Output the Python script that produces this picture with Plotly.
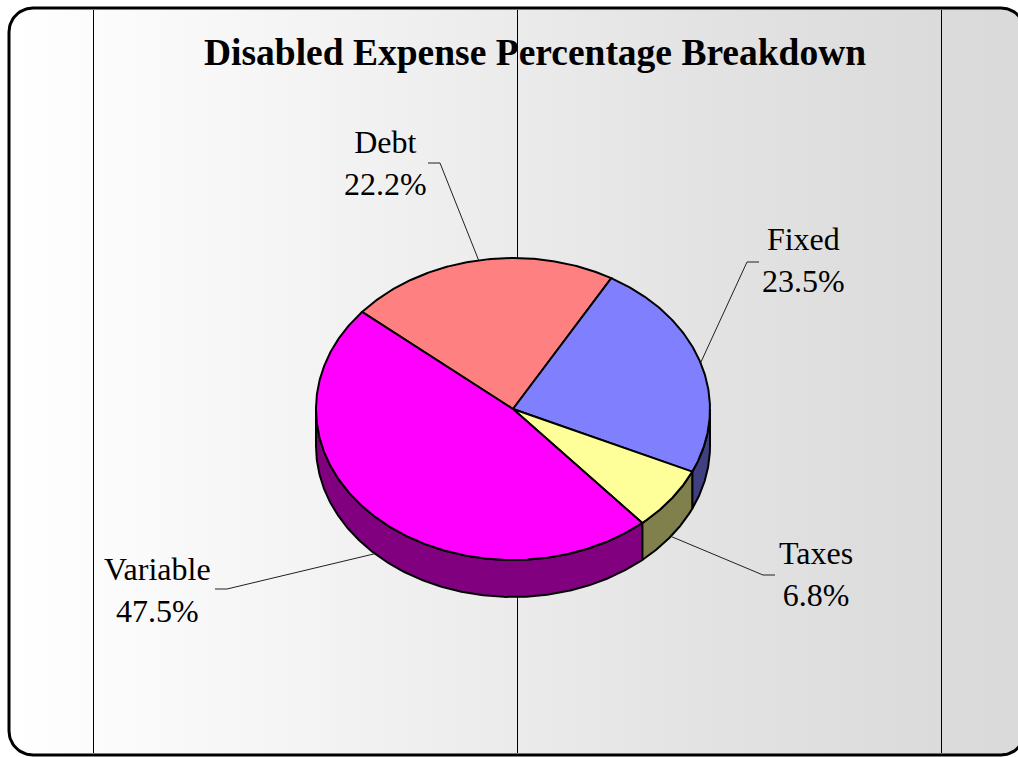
import numpy as np
import plotly.graph_objects as go

# ---- data -------------------------------------------------------------
categories = ["Debt", "Fixed", "Taxes", "Variable"]
shares = [22.2, 23.5, 6.8, 47.5]          # percent of total expenses
title_text = "Disabled Expense Percentage Breakdown"

# ---- styling ----------------------------------------------------------
top_colors = ["#FF8080", "#8080FF", "#FFFF99", "#FF00FF"]
side_colors = ["#804040", "#404080", "#80804D", "#800080"]
FONT = "Liberation Serif, Times New Roman, serif"

W, H = 1018, 757
CX, CY = 513, 409        # centre of the pie's top face
RX, RY = 197, 151        # ellipse radii of the tilted disc
DEPTH = 37               # thickness of the disc
START = 310.0            # first slice edge, degrees clockwise from 12 o'clock

# label placement: text centre, leader elbow, leader end
label_layout = {
    "Debt":     dict(tx=385, ty=163, ex=440, ey=163, hx=428),
    "Fixed":    dict(tx=803, ty=260, ex=747, ey=262, hx=759),
    "Taxes":    dict(tx=816, ty=574, ex=763, ey=575, hx=775),
    "Variable": dict(tx=157, ty=590, ex=227, ey=589, hx=215),
}


def rim(theta_deg, drop=0.0):
    t = np.radians(theta_deg)
    return CX + RX * np.sin(t), CY - RY * np.cos(t) + drop


fig = go.Figure()

# ---- framed background with horizontal gradient ----------------------
x0, x1, y0, y1, r = 9, 1025, 8, 755, 24
bx, by = [], []
for (ccx, ccy, a0, a1) in [(x1 - r, y0 + r, -90, 0), (x1 - r, y1 - r, 0, 90),
                           (x0 + r, y1 - r, 90, 180), (x0 + r, y0 + r, 180, 270)]:
    tt = np.radians(np.linspace(a0, a1, 20))
    bx += list(ccx + r * np.cos(tt))
    by += list(ccy + r * np.sin(tt))
bx.append(bx[0]); by.append(by[0])
fig.add_trace(go.Scatter(
    x=bx, y=by, mode="lines", fill="toself",
    line=dict(color="black", width=3),
    fillgradient=dict(type="horizontal", colorscale=[
        [0.0, "#ffffff"], [0.083, "#fcfcfc"], [0.29, "#f4f4f4"],
        [0.5, "#ebebeb"], [0.68, "#e3e3e3"], [0.918, "#dbdbdb"], [1.0, "#dadada"]]),
    hoverinfo="skip", showlegend=False))

# vertical divider lines (centred on pixel columns)
for vx in [93.5, 517.5, 941.5]:
    fig.add_trace(go.Scatter(x=[vx, vx], y=[10, 753], mode="lines",
                             line=dict(color="black", width=1),
                             hoverinfo="skip", showlegend=False))

# ---- slice angles -------------------------------------------------------
total = sum(shares)
edges = [START]
for s in shares:
    edges.append(edges[-1] + 360.0 * s / total)
spans = list(zip(edges[:-1], edges[1:]))

# ---- side walls (front half of the disc only) -------------------------
for (a, b), col in zip(spans, side_colors):
    for lo, hi in [(90, 270), (450, 630), (-270, -90)]:
        s0, s1 = max(a, lo), min(b, hi)
        if s1 <= s0:
            continue
        th = np.linspace(s0, s1, max(int((s1 - s0) * 2), 2))
        tx, ty = rim(th)
        bx_, by_ = rim(th[::-1], DEPTH)
        px = list(tx) + list(bx_) + [tx[0]]
        py = list(ty) + list(by_) + [ty[0]]
        fig.add_trace(go.Scatter(x=px, y=py, mode="lines", fill="toself",
                                 fillcolor=col, line=dict(color="black", width=2),
                                 hoverinfo="skip", showlegend=False))

# ---- top faces ----------------------------------------------------------
for (a, b), col in zip(spans, top_colors):
    th = np.linspace(a, b, max(int((b - a) * 2), 2))
    tx, ty = rim(th)
    px = [CX] + list(tx) + [CX]
    py = [CY] + list(ty) + [CY]
    fig.add_trace(go.Scatter(x=px, y=py, mode="lines", fill="toself",
                             fillcolor=col, line=dict(color="black", width=2),
                             hoverinfo="skip", showlegend=False))

# ---- leader lines and labels -------------------------------------------
for name, val, (a, b) in zip(categories, shares, spans):
    mid = (a + b) / 2.0
    c = np.cos(np.radians(mid))
    ax_, ay_ = rim(mid, DEPTH if c < 0 else 0.0)
    L = label_layout[name]
    fig.add_trace(go.Scatter(x=[ax_, L["ex"], L["hx"]], y=[ay_, L["ey"], L["ey"]],
                             mode="lines", line=dict(color="#202020", width=1),
                             hoverinfo="skip", showlegend=False))
    fig.add_annotation(x=L["tx"], y=L["ty"], xref="x", yref="y",
                       text=f"{name}<br>{val:.1f}%", showarrow=False,
                       xanchor="center", yanchor="middle", align="center",
                       font=dict(family=FONT, size=32, color="black"))

fig.add_annotation(x=535, y=52, xref="x", yref="y", text=f"<b>{title_text}</b>",
                   showarrow=False, xanchor="center", yanchor="middle",
                   font=dict(family=FONT, size=37.5, color="black"))

fig.update_layout(
    width=W, height=H, margin=dict(l=0, r=0, t=0, b=0),
    paper_bgcolor="white", plot_bgcolor="white",
    xaxis=dict(range=[0, W], visible=False, fixedrange=True),
    yaxis=dict(range=[H, 0], visible=False, fixedrange=True),
    showlegend=False,
)

fig.write_html("out.html")
